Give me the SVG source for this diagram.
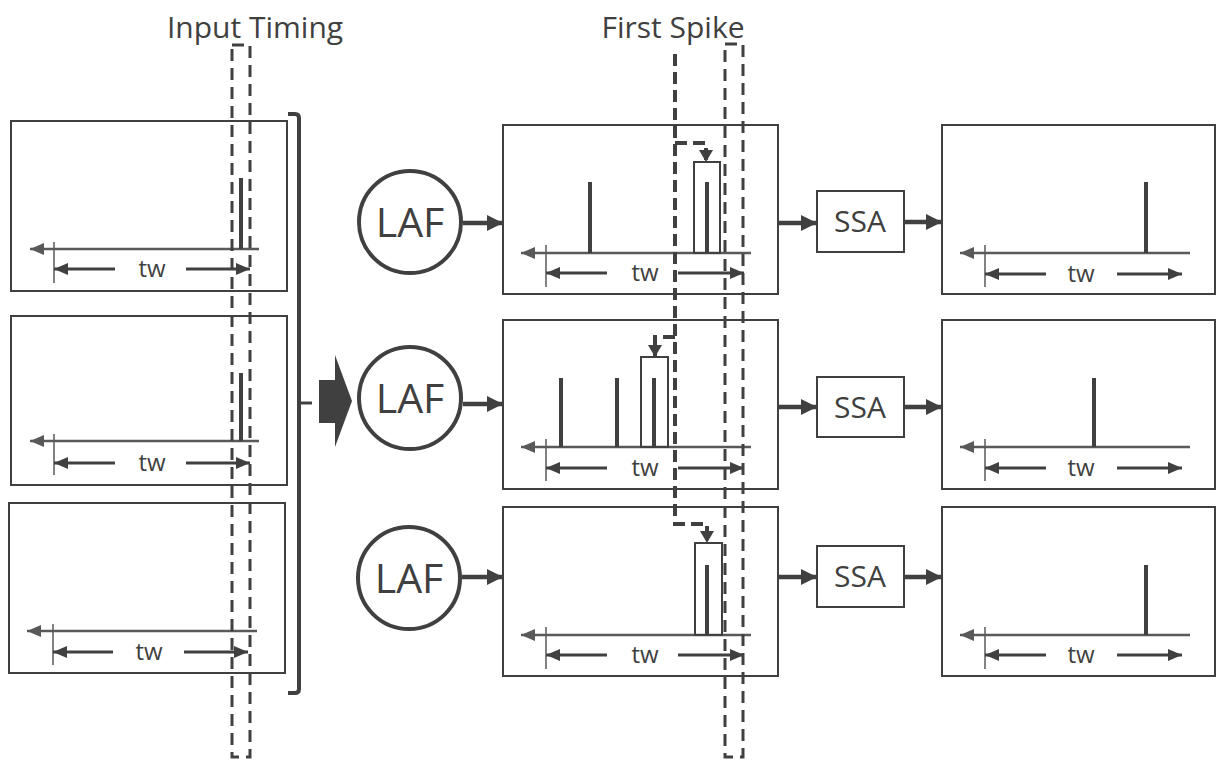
<svg xmlns="http://www.w3.org/2000/svg" width="1217" height="760" viewBox="0 0 1217 760">
<defs>
<marker id="ahBig" markerWidth="16" markerHeight="16" refX="16" refY="8" orient="auto" markerUnits="userSpaceOnUse"><path d="M0,0 L16,8 L0,16 z" fill="#404040"/></marker>
<marker id="ahTw" markerWidth="14" markerHeight="12" refX="14" refY="6" orient="auto" markerUnits="userSpaceOnUse"><path d="M0,0 L14,6 L0,12 z" fill="#404040"/></marker>
<marker id="ahAx" markerWidth="14" markerHeight="12" refX="14" refY="6" orient="auto" markerUnits="userSpaceOnUse"><path d="M0,0 L14,6 L0,12 z" fill="#595959"/></marker>
<marker id="ahDash" markerWidth="14" markerHeight="14" refX="12" refY="7" orient="auto" markerUnits="userSpaceOnUse"><path d="M0,0 L12,7 L0,14 z" fill="#404040"/></marker>
</defs>
<style>
.box{fill:#fff;stroke:#404040;stroke-width:2}
.axis{stroke:#595959;stroke-width:2.5;fill:none}
.tick{stroke:#595959;stroke-width:1.5}
.tw{stroke:#404040;stroke-width:3;fill:none}
.spike{stroke:#404040;stroke-width:4}
.hl{fill:none;stroke:#404040;stroke-width:2}
.conn{stroke:#404040;stroke-width:4.5;fill:none}
.circ{fill:#fff;stroke:#404040;stroke-width:4}
.sbox{fill:#fff;stroke:#404040;stroke-width:2}
.lbl{font-family:"Open Sans","Noto Sans",sans-serif;fill:#404040;text-anchor:middle}
.dpair{fill:none;stroke:#404040;stroke-width:3;stroke-dasharray:12 7}
.dfs{fill:none;stroke:#404040;stroke-width:4;stroke-dasharray:12 6}
</style>
<rect width="1217" height="760" fill="#fff"/>

<text class="lbl" x="255" y="38" font-size="30">Input Timing</text>
<text class="lbl" x="673" y="38" font-size="30">First Spike</text>

<!-- left input boxes -->
<g id="in1">
<rect class="box" x="11" y="121" width="276" height="170"/>
<line class="axis" x1="259" y1="249" x2="30" y2="249" marker-end="url(#ahAx)"/>
<line class="tick" x1="54" y1="242" x2="54" y2="283"/>
<line class="spike" x1="241" y1="178" x2="241" y2="249"/>
<line class="tw" x1="115" y1="269" x2="54" y2="269" marker-end="url(#ahTw)"/>
<line class="tw" x1="186" y1="269" x2="250" y2="269" marker-end="url(#ahTw)"/>
<text class="lbl" x="152" y="277" font-size="24">tw</text>
</g>
<g id="in2">
<rect class="box" x="11" y="316" width="276" height="169"/>
<line class="axis" x1="259" y1="441" x2="30" y2="441" marker-end="url(#ahAx)"/>
<line class="tick" x1="54" y1="434" x2="54" y2="475"/>
<line class="spike" x1="241" y1="373" x2="241" y2="441"/>
<line class="tw" x1="115" y1="463" x2="54" y2="463" marker-end="url(#ahTw)"/>
<line class="tw" x1="186" y1="463" x2="250" y2="463" marker-end="url(#ahTw)"/>
<text class="lbl" x="152" y="471" font-size="24">tw</text>
</g>
<g id="in3">
<rect class="box" x="9" y="503" width="276" height="170"/>
<line class="axis" x1="257" y1="631" x2="27" y2="631" marker-end="url(#ahAx)"/>
<line class="tick" x1="53" y1="624" x2="53" y2="665"/>
<line class="tw" x1="113" y1="652" x2="53" y2="652" marker-end="url(#ahTw)"/>
<line class="tw" x1="184" y1="652" x2="248" y2="652" marker-end="url(#ahTw)"/>
<text class="lbl" x="149" y="660" font-size="24">tw</text>
</g>

<!-- bracket and big arrow -->
<g id="bracket">
<path d="M288 114 H295 Q299 114 299 118 V689 Q299 693 295 693 H288" fill="none" stroke="#404040" stroke-width="4"/>
<line x1="299" y1="403" x2="312" y2="403" stroke="#404040" stroke-width="3"/>
</g>
<g id="bigarrow">
<path d="M319 380 H335 V355 L352 401 L335 447 V423 H319 z" fill="#404040"/>
</g>

<!-- LAF -->
<g id="laf1"><circle class="circ" cx="410" cy="222" r="51"/><text class="lbl" x="410" y="237" font-size="41">LAF</text></g>
<g id="laf2"><circle class="circ" cx="410" cy="398" r="51"/><text class="lbl" x="410" y="413" font-size="41">LAF</text></g>
<g id="laf3"><circle class="circ" cx="409" cy="578" r="51"/><text class="lbl" x="409" y="593" font-size="41">LAF</text></g>

<!-- middle boxes -->
<g id="mid1">
<rect class="box" x="503" y="125" width="275" height="169"/>
<line class="axis" x1="751" y1="253" x2="521" y2="253" marker-end="url(#ahAx)"/>
<line class="tick" x1="546" y1="245" x2="546" y2="287"/>
<line class="spike" x1="590" y1="182" x2="590" y2="253"/>
<rect class="hl" x="694" y="162" width="26" height="91"/>
<line class="spike" x1="707" y1="182" x2="707" y2="253"/>
<line class="tw" x1="607" y1="273" x2="546" y2="273" marker-end="url(#ahTw)"/>
<line class="tw" x1="678" y1="273" x2="744" y2="273" marker-end="url(#ahTw)"/>
<text class="lbl" x="645" y="281" font-size="24">tw</text>
</g>
<g id="mid2">
<rect class="box" x="503" y="320" width="275" height="169"/>
<line class="axis" x1="751" y1="447" x2="521" y2="447" marker-end="url(#ahAx)"/>
<line class="tick" x1="546" y1="439" x2="546" y2="481"/>
<line class="spike" x1="561" y1="378" x2="561" y2="447"/>
<line class="spike" x1="617" y1="378" x2="617" y2="447"/>
<rect class="hl" x="641" y="357" width="27" height="90"/>
<line class="spike" x1="654" y1="378" x2="654" y2="447"/>
<line class="tw" x1="607" y1="468" x2="546" y2="468" marker-end="url(#ahTw)"/>
<line class="tw" x1="678" y1="468" x2="744" y2="468" marker-end="url(#ahTw)"/>
<text class="lbl" x="645" y="476" font-size="24">tw</text>
</g>
<g id="mid3">
<rect class="box" x="503" y="507" width="275" height="169"/>
<line class="axis" x1="751" y1="635" x2="521" y2="635" marker-end="url(#ahAx)"/>
<line class="tick" x1="546" y1="627" x2="546" y2="669"/>
<rect class="hl" x="695" y="543" width="27" height="92"/>
<line class="spike" x1="707" y1="565" x2="707" y2="635"/>
<line class="tw" x1="607" y1="655" x2="546" y2="655" marker-end="url(#ahTw)"/>
<line class="tw" x1="678" y1="655" x2="744" y2="655" marker-end="url(#ahTw)"/>
<text class="lbl" x="645" y="663" font-size="24">tw</text>
</g>

<!-- SSA -->
<g id="ssa1"><rect class="sbox" x="817" y="191" width="87" height="61"/><text class="lbl" x="860" y="232" font-size="30">SSA</text></g>
<g id="ssa2"><rect class="sbox" x="817" y="377" width="87" height="60"/><text class="lbl" x="860" y="418" font-size="30">SSA</text></g>
<g id="ssa3"><rect class="sbox" x="817" y="546" width="87" height="61"/><text class="lbl" x="860" y="587" font-size="30">SSA</text></g>

<!-- right boxes -->
<g id="out1">
<rect class="box" x="942" y="125" width="273" height="169"/>
<line class="axis" x1="1190" y1="253" x2="960" y2="253" marker-end="url(#ahAx)"/>
<line class="tick" x1="985" y1="245" x2="985" y2="287"/>
<line class="spike" x1="1146" y1="182" x2="1146" y2="253"/>
<line class="tw" x1="1046" y1="274" x2="985" y2="274" marker-end="url(#ahTw)"/>
<line class="tw" x1="1117" y1="274" x2="1182" y2="274" marker-end="url(#ahTw)"/>
<text class="lbl" x="1081" y="282" font-size="24">tw</text>
</g>
<g id="out2">
<rect class="box" x="942" y="320" width="273" height="169"/>
<line class="axis" x1="1190" y1="447" x2="960" y2="447" marker-end="url(#ahAx)"/>
<line class="tick" x1="985" y1="439" x2="985" y2="481"/>
<line class="spike" x1="1094" y1="378" x2="1094" y2="447"/>
<line class="tw" x1="1046" y1="468" x2="985" y2="468" marker-end="url(#ahTw)"/>
<line class="tw" x1="1117" y1="468" x2="1182" y2="468" marker-end="url(#ahTw)"/>
<text class="lbl" x="1081" y="476" font-size="24">tw</text>
</g>
<g id="out3">
<rect class="box" x="942" y="507" width="273" height="169"/>
<line class="axis" x1="1190" y1="635" x2="960" y2="635" marker-end="url(#ahAx)"/>
<line class="tick" x1="985" y1="627" x2="985" y2="669"/>
<line class="spike" x1="1146" y1="565" x2="1146" y2="635"/>
<line class="tw" x1="1046" y1="655" x2="985" y2="655" marker-end="url(#ahTw)"/>
<line class="tw" x1="1117" y1="655" x2="1182" y2="655" marker-end="url(#ahTw)"/>
<text class="lbl" x="1081" y="663" font-size="24">tw</text>
</g>

<!-- connectors -->
<g id="connectors">
<line class="conn" x1="463" y1="223" x2="503" y2="223" marker-end="url(#ahBig)"/>
<line class="conn" x1="463" y1="404" x2="503" y2="404" marker-end="url(#ahBig)"/>
<line class="conn" x1="462" y1="577" x2="503" y2="577" marker-end="url(#ahBig)"/>
<line class="conn" x1="778" y1="223" x2="817" y2="223" marker-end="url(#ahBig)"/>
<line class="conn" x1="778" y1="407" x2="817" y2="407" marker-end="url(#ahBig)"/>
<line class="conn" x1="778" y1="577" x2="817" y2="577" marker-end="url(#ahBig)"/>
<line class="conn" x1="904" y1="222" x2="942" y2="222" marker-end="url(#ahBig)"/>
<line class="conn" x1="904" y1="407" x2="942" y2="407" marker-end="url(#ahBig)"/>
<line class="conn" x1="904" y1="577" x2="942" y2="577" marker-end="url(#ahBig)"/>
<!-- dashed timing windows -->
<rect class="dpair" x="232" y="45" width="18" height="712"/>
<rect class="dpair" x="725" y="44" width="18" height="713"/>
<!-- first spike dashed -->
<path class="dfs" d="M675 54 V524 H707 V543" marker-end="url(#ahDash)"/>
<path class="dfs" d="M675 143 H706 V162" marker-end="url(#ahDash)"/>
<path class="dfs" d="M675 337 H655 V357" marker-end="url(#ahDash)"/>
</g>
</svg>
